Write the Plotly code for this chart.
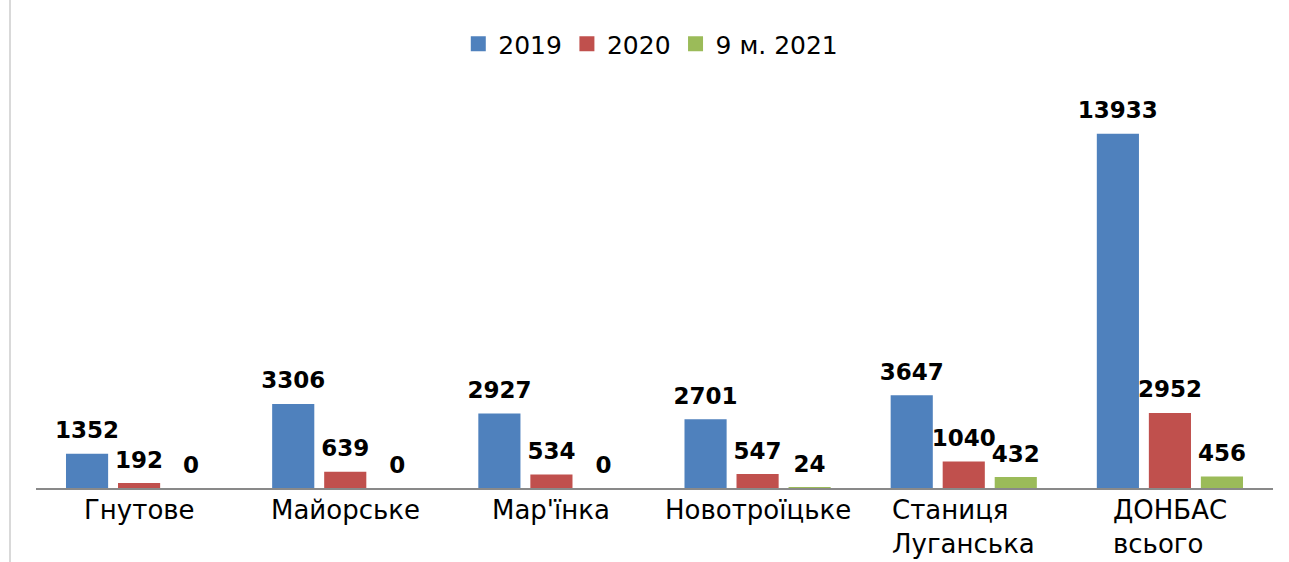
import plotly.graph_objects as go

categories = ["Гнутове", "Майорське", "Мар'їнка", "Новотроїцьке", "Станиця<br>Луганська", "ДОНБАС<br>всього"]
series_names = ["2019", "2020", "9 м. 2021"]
values_2019 = [1352, 3306, 2927, 2701, 3647, 13933]
values_2020 = [192, 639, 534, 547, 1040, 2952]
values_2021 = [0, 0, 0, 24, 432, 456]
colors = ["#4F81BD", "#C0504D", "#9BBB59"]

FONT = "DejaVu Sans"
all_series = [values_2019, values_2020, values_2021]

fig = go.Figure()
for i, (name, vals) in enumerate(zip(series_names, all_series)):
    fig.add_trace(go.Bar(
        x=categories, y=vals, name=name, marker_color=colors[i],
        offsetgroup=str(i), marker_line_width=0, hoverinfo="skip",
        showlegend=False,
    ))
for i, (name, vals) in enumerate(zip(series_names, all_series)):
    fig.add_trace(go.Scatter(
        x=categories, y=vals, mode="markers+text", offsetgroup=str(i),
        text=[f"<b>{v}</b>" for v in vals], textposition="top center",
        textfont=dict(family=FONT, size=23, color="black"),
        marker=dict(size=14, opacity=0), showlegend=False, hoverinfo="skip",
        cliponaxis=False,
    ))
# legend entries (square markers)
for i, name in enumerate(series_names):
    fig.add_trace(go.Scatter(
        x=[None], y=[None], mode="markers", name=name,
        marker=dict(symbol="square", size=15, color=colors[i]),
        showlegend=True, hoverinfo="skip",
    ))

for c in categories:
    fig.add_annotation(
        x=c, y=0, xref="x", yref="y", text=c, showarrow=False,
        yanchor="top", yshift=-5, align="left",
        font=dict(family=FONT, size=26, color="black"),
    )

fig.add_shape(type="line", xref="paper", yref="paper", x0=-0.021, x1=-0.021,
              y0=-0.2, y1=1.2, line=dict(color="#D9D9D9", width=2))

fig.update_layout(
    width=1289, height=562,
    margin=dict(l=36, r=16, t=80, b=74, autoexpand=False),
    paper_bgcolor="white", plot_bgcolor="white",
    barmode="group", bargap=0.243, bargroupgap=0.19,
    scattermode="group", scattergap=0.243,
    font=dict(family=FONT, size=24, color="black"),
    legend=dict(orientation="h", x=0.497, xanchor="center", xref="paper",
                y=1 - 44 / 562, yanchor="middle", yref="container",
                font=dict(family=FONT, size=25, color="black"), itemwidth=30),
    xaxis=dict(showline=True, linecolor="#898989", linewidth=1.5, showticklabels=False,
               ticks="", showgrid=False, zeroline=False),
    yaxis=dict(range=[0, 16050], visible=False, showgrid=False, zeroline=False),
)

fig.write_html("out.html", config={"displayModeBar": False},
               post_script="document.body.style.margin='0';document.body.style.overflow='hidden';")
